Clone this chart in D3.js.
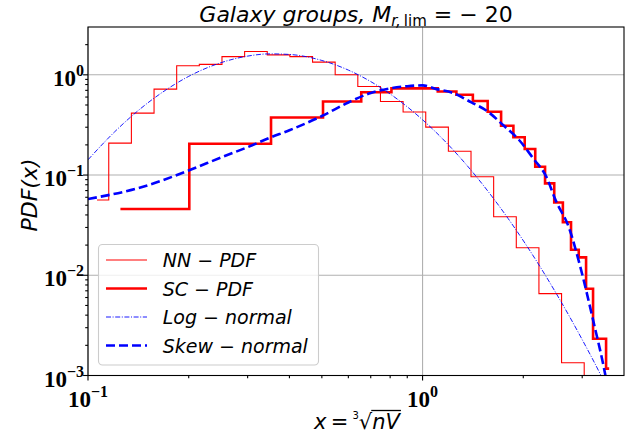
<!DOCTYPE html>
<html><head><meta charset="utf-8">
<script src="https://cdn.jsdelivr.net/npm/d3@7"></script>
<style>body{margin:0;background:#fff}svg{display:block}</style>
</head><body><svg id="c" width="636" height="435"></svg>
<script>
// ---------- data ----------
// NN-PDF: step plot (mid), bin centres (log-spaced) and values
const nnX = [0.1064,0.1243,0.1453,0.1698,0.1984,0.2319,0.2710,0.3167,0.3701,0.4325,0.5054,0.5906,0.6902,0.8066,0.9426,1.1015,1.2872,1.5042,1.7578,2.0542,2.4006,2.8053,3.278];
const nnY = [0.0563,0.208,0.415,0.720,1.23,1.27,1.52,1.71,1.58,1.52,1.34,1.00,0.765,0.542,0.425,0.301,0.173,0.0962,0.0384,0.0188,0.00656,0.00134,0];
// SC-PDF: step plot (mid), linearly spaced centres
const scX = [0.125,0.2766,0.4282,0.5798,0.7314,0.883,1.0346,1.1862,1.3378,1.4894,1.641,1.7926,1.9442,2.0958,2.2474,2.399,2.5506,2.7022,2.8538,3.0054,3.157,3.3086,3.4602,3.6118];
const scY = [0.0458,0.205,0.375,0.542,0.669,0.733,0.733,0.682,0.632,0.548,0.428,0.310,0.238,0.182,0.121,0.0825,0.0533,0.0338,0.0180,0.0151,0.00735,0.00233,0.00233,0.00117];
// Log-normal fit curve
const lnX = [0.1,0.12,0.14,0.17,0.2,0.25,0.3,0.35,0.4,0.5,0.6,0.7,0.8,1.0,1.2,1.5,1.8,2.1,2.5,3.0,3.5,4.0];
const lnY = [0.142,0.269,0.429,0.698,0.965,1.323,1.537,1.618,1.597,1.391,1.115,0.856,0.644,0.356,0.197,0.0833,0.0370,0.0173,0.00672,0.00228,0.000842,0.00031];
// Skew-normal fit curve
const snX = [0.1,0.141,0.2,0.25,0.3,0.35,0.4,0.5,0.6,0.7,0.8,0.9,1.0,1.1,1.236,1.4,1.55,1.75,1.94,2.15,2.34,2.5,2.74,2.96,3.23,3.52,3.8];
const snY = [0.0577,0.0739,0.111,0.150,0.190,0.236,0.28,0.388,0.53,0.66,0.733,0.77,0.785,0.72,0.657,0.53,0.441,0.31,0.225,0.144,0.097,0.0559,0.0297,0.0122,0.00363,0.001,0.00022];
const xMajor = [0.1, 1];
const xMajorLabels = ["-1", "0"];
const yMajor = [0.001, 0.01, 0.1, 1];
const yMajorLabels = ["-3", "-2", "-1", "0"];
const legendItems = ["NN", "SC", "Log", "Skew"];

// ---------- layout ----------
const svg = d3.select("#c");
const L = 88, R = 624, T = 27, B = 375.5;
const x = d3.scaleLog().domain([0.1, 4.0]).range([L, R]);
const y = d3.scaleLog().domain([1e-3, 3.0]).range([B, T]);
const mathFont = "'DejaVu Sans', sans-serif";
const tickFont = "'Liberation Serif', 'Times New Roman', serif";

svg.append("defs").append("clipPath").attr("id","clip")
  .append("rect").attr("x",L).attr("y",T).attr("width",R-L).attr("height",B-T);

// grid
const grid = svg.append("g").attr("stroke","#b0b0b0").attr("stroke-width",1.1);
xMajor.forEach(v => grid.append("line").attr("x1",x(v)).attr("x2",x(v)).attr("y1",T).attr("y2",B));
yMajor.forEach(v => grid.append("line").attr("y1",y(v)).attr("y2",y(v)).attr("x1",L).attr("x2",R));

// step-mid helper (midpoints in data space, like matplotlib steps-mid)
function stepPts(xs, ys){
  const pts = [[xs[0], ys[0]]];
  for (let i=1;i<xs.length;i++){
    const m = (xs[i-1]+xs[i])/2;
    pts.push([m, ys[i-1]]); pts.push([m, ys[i]]);
  }
  pts.push([xs[xs.length-1], ys[ys.length-1]]);
  return pts;
}
const yc = v => v > 0 ? y(v) : B + 50;
const lineLin = d3.line().x(d => x(d[0])).y(d => yc(d[1]));
const lineSmooth = d3.line().x(d => x(d[0])).y(d => yc(d[1])).curve(d3.curveMonotoneX);

const plot = svg.append("g").attr("clip-path","url(#clip)");
plot.append("path").datum(stepPts(nnX, nnY)).attr("d", lineLin)
  .attr("fill","none").attr("stroke","#ff0000").attr("stroke-width",1.1);
plot.append("path").datum(stepPts(scX, scY)).attr("d", lineLin)
  .attr("fill","none").attr("stroke","#ff0000").attr("stroke-width",2.6);
plot.append("path").datum(d3.zip(lnX, lnY)).attr("d", lineSmooth)
  .attr("fill","none").attr("stroke","#0000ff").attr("stroke-width",0.9).attr("stroke-dasharray","5,1.6,1,1.6");
plot.append("path").datum(d3.zip(snX, snY)).attr("d", lineSmooth)
  .attr("fill","none").attr("stroke","#0000ff").attr("stroke-width",2.6).attr("stroke-dasharray","9,4");

// spines
svg.append("rect").attr("x",L).attr("y",T).attr("width",R-L).attr("height",B-T)
  .attr("fill","none").attr("stroke","#000").attr("stroke-width",1.1);

// ticks
const ticks = svg.append("g").attr("stroke","#000").attr("stroke-width",1.1);
const xMinor = [], yMinor = [];
[0.1,1].forEach(d => { for (let k=2;k<=9;k++){ const v=d*k; if (v<4.0) xMinor.push(v);} });
[0.001,0.01,0.1,1].forEach(d => { for (let k=2;k<=9;k++){ const v=d*k; if (v<3.0) yMinor.push(v);} });
xMajor.forEach(v => ticks.append("line").attr("x1",x(v)).attr("x2",x(v)).attr("y1",B).attr("y2",B+4.9));
xMinor.forEach(v => ticks.append("line").attr("x1",x(v)).attr("x2",x(v)).attr("y1",B).attr("y2",B+2.8));
yMajor.forEach(v => ticks.append("line").attr("y1",y(v)).attr("y2",y(v)).attr("x1",L).attr("x2",L-4.9));
yMinor.forEach(v => ticks.append("line").attr("y1",y(v)).attr("y2",y(v)).attr("x1",L).attr("x2",L-2.8));

// tick labels
function powLabel(g, px, py, exp, anchor){
  const t = g.append("text").attr("x",px).attr("y",py).attr("text-anchor",anchor)
    .attr("font-family",tickFont).attr("font-weight","bold").attr("font-size",23).attr("fill","#000");
  t.append("tspan").text("10");
  t.append("tspan").attr("font-size",16).attr("dy",-10).text(exp.replace("-","\u2212"));
}
const tl = svg.append("g");
xMajor.forEach((v,i) => powLabel(tl, x(v), 407, xMajorLabels[i], "middle"));
yMajor.forEach((v,i) => powLabel(tl, 84, y(v)+11, yMajorLabels[i], "end"));

// title
const title = svg.append("text").attr("x",(L+R)/2).attr("y",22).attr("text-anchor","middle")
  .attr("font-family",mathFont).attr("font-size",22).attr("fill","#000");
title.append("tspan").attr("font-style","italic").text("Galaxy groups, M");
title.append("tspan").attr("font-style","italic").attr("font-size",15).attr("dy",4).text("r,");
title.append("tspan").attr("font-size",15).text("\u2009lim");
title.append("tspan").attr("dy",-4).text(" = \u2212 20");

// y label
svg.append("text").attr("transform","translate(37,195) rotate(-90)").attr("text-anchor","middle")
  .attr("font-family",mathFont).attr("font-style","italic").attr("font-size",22).text("PDF(x)");

// x label: x = cube-root(nV)
const xl = svg.append("g");
const xt = xl.append("text").attr("x",0).attr("y",429).attr("font-family",mathFont).attr("font-size",21);
xt.append("tspan").attr("font-style","italic").text("x");
xt.append("tspan").text("\u2009=\u2009");
xt.append("tspan").attr("font-size",10).attr("dy",-10).text("3");
xt.append("tspan").attr("dy",10).text("\u221A");
const nv = xt.append("tspan").attr("font-style","italic").text("nV");
{
  const full = xt.node().getComputedTextLength();
  const nvLen = nv.node().getComputedTextLength();
  const x0 = 357 - full/2;
  xt.attr("x", x0);
  const x1 = x0 + full - nvLen;
  xl.append("line").attr("x1",x1-1).attr("x2",x0+full+1).attr("y1",410.5).attr("y2",410.5)
    .attr("stroke","#000").attr("stroke-width",1.3);
}

// legend
const lg = svg.append("g");
lg.append("rect").attr("x",98.5).attr("y",244.5).attr("width",220).attr("height",120.5).attr("rx",4)
  .attr("fill","#fff").attr("fill-opacity",0.8).attr("stroke","#cccccc").attr("stroke-width",1.1);
const rowsY = [260, 288.5, 317, 345.5];
const styles = [
  {w:1.1, dash:null, c:"#ff0000", a:"NN", b:"PDF"},
  {w:2.6, dash:null, c:"#ff0000", a:"SC", b:"PDF"},
  {w:0.9, dash:"5,1.6,1,1.6", c:"#0000ff", a:"Log", b:"normal"},
  {w:2.6, dash:"9,4", c:"#0000ff", a:"Skew", b:"normal"}
];
legendItems.forEach((k,i) => {
  const s = styles[i];
  const ln = lg.append("line").attr("x1",106).attr("x2",147).attr("y1",rowsY[i]).attr("y2",rowsY[i])
    .attr("stroke",s.c).attr("stroke-width",s.w);
  if (s.dash) ln.attr("stroke-dasharray", s.dash);
  const t = lg.append("text").attr("x",162.7).attr("y",rowsY[i]+7).attr("font-family",mathFont).attr("font-size",19);
  t.append("tspan").attr("font-style","italic").text(s.a);
  t.append("tspan").text(" \u2212 ");
  t.append("tspan").attr("font-style","italic").text(s.b);
});
</script></body></html>
